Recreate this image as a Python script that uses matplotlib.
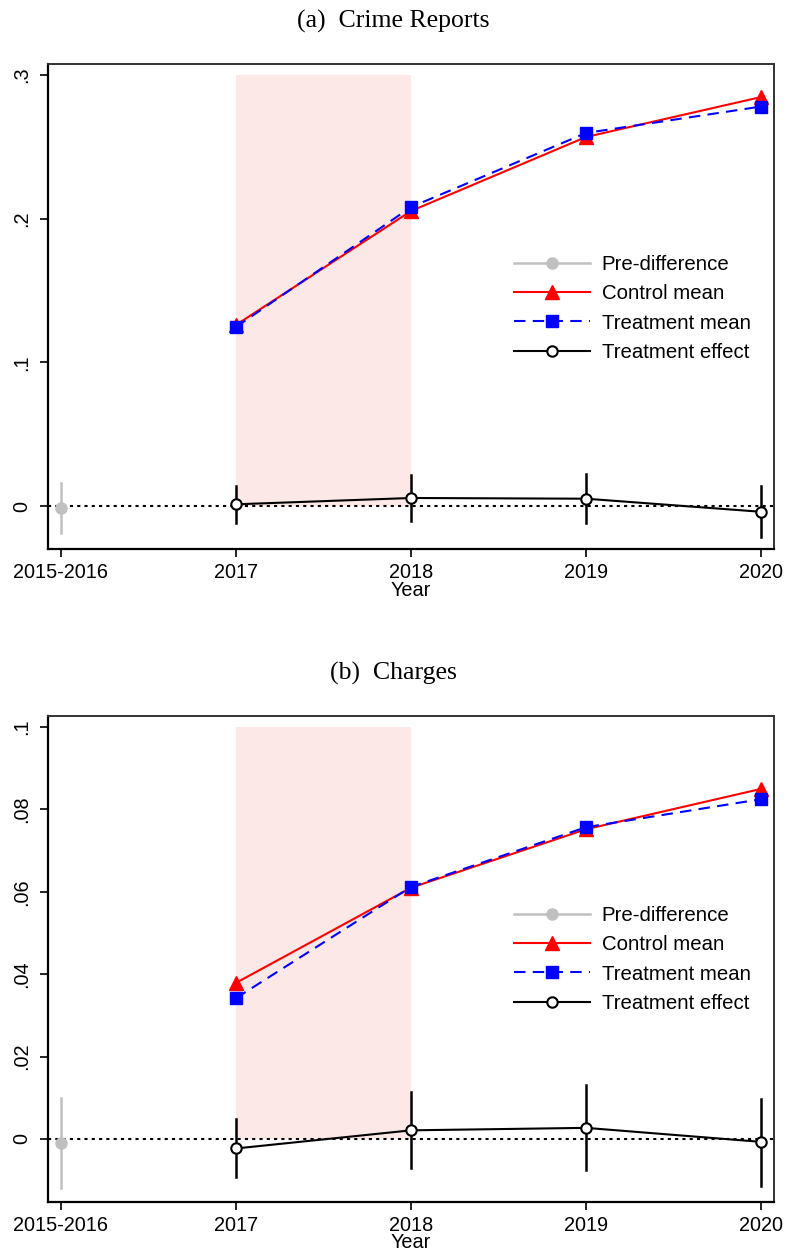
import matplotlib
matplotlib.use("Agg")
import matplotlib.pyplot as plt
import numpy as np

xlabels = ["2015-2016", "2017", "2018", "2019", "2020"]
years_post = [1, 2, 3, 4]

# Panel (a) Crime Reports
a_control = [0.126, 0.2053, 0.2568, 0.2846]
a_treat = [0.1246, 0.208, 0.2596, 0.278]
a_effect = [0.0012, 0.0056, 0.0051, -0.004]
a_eff_lo = [-0.012, -0.0104, -0.012, -0.0216]
a_eff_hi = [0.0139, 0.0216, 0.0225, 0.0139]
a_pre = -0.0016
a_pre_lo = -0.019
a_pre_hi = 0.0158

# Panel (b) Charges
b_control = [0.0379, 0.0610, 0.0752, 0.0850]
b_treat = [0.0342, 0.0612, 0.0757, 0.0825]
b_effect = [-0.0023, 0.0021, 0.0027, -0.0007]
b_eff_lo = [-0.0093, -0.0070, -0.0075, -0.0113]
b_eff_hi = [0.0048, 0.0114, 0.0130, 0.0096]
b_pre = -0.0010
b_pre_lo = -0.0120
b_pre_hi = 0.0099

plt.rcParams['font.family'] = ['Liberation Sans', 'DejaVu Sans']

fig = plt.figure(figsize=(7.86, 12.54), dpi=100)
W, H = 786, 1254

def add_ax(left, top, right, bottom):
    return fig.add_axes([left / W, 1 - bottom / H, (right - left) / W, (bottom - top) / H])

ax_a = add_ax(48, 64, 774, 549)
ax_b = add_ax(48, 716, 774, 1202)

def draw(ax, control, treat, effect, lo, hi, pre, pre_lo, pre_hi, shade_top, yticks, yticklabels, ylim, title):
    ax.fill_between([1, 2], 0, shade_top, color='#fde8e8', lw=0, zorder=0)
    ax.axhline(0, color='black', ls=(0, (1.5, 2.0)), lw=1.5, zorder=1)
    # pre-difference
    ax.plot([0, 0], [pre_lo, pre_hi], color='#c0c0c0', lw=1.8, zorder=2)
    ax.plot([0], [pre], marker='o', color='#c0c0c0', ms=8, ls='-', lw=1.8, zorder=3, label='Pre-difference')
    # means
    ax.plot(years_post, control, color='red', lw=1.5, marker='^', ms=10, zorder=4, label='Control mean')
    ax.plot(years_post, treat, color='blue', lw=1.5, ls=(0, (5.5, 3.5)), marker='s', ms=8, zorder=5, label='Treatment mean')
    # effect CIs
    for x, l, h in zip(years_post, lo, hi):
        ax.plot([x, x], [l, h], color='black', lw=1.8, zorder=2)
    ax.plot(years_post, effect, color='black', lw=1.5, marker='o', ms=7.5, mfc='white', mec='black', mew=1.5, zorder=6, label='Treatment effect')

    ax.set_xlim(-0.074, 4.074)
    ax.set_ylim(*ylim)
    ax.set_xticks(range(5))
    ax.set_xticklabels(xlabels, fontsize=14.3)
    ax.set_yticks(yticks)
    ax.set_yticklabels(yticklabels, fontsize=14.3, rotation=90, va='center')
    ax.tick_params(axis='both', direction='out', length=6, width=1.2, color='black')
    ax.tick_params(axis='x', pad=4)
    ax.tick_params(axis='y', pad=6)
    for s in ['left', 'bottom']:
        ax.spines[s].set_linewidth(1.6)
        ax.spines[s].set_color('black')
    for s in ['top', 'right']:
        ax.spines[s].set_linewidth(1.4)
        ax.spines[s].set_color('#333333')
    ax.set_xlabel('Year', fontsize=14.3, labelpad=-1)
    ax.set_title(title, family=['Liberation Serif', 'DejaVu Serif'], fontsize=18.5, pad=26.5,
                 x=(393 - 48) / 726)
    leg = ax.legend(loc='center left', frameon=False,
                    fontsize=14.7, handlelength=3.7, handletextpad=0.6, labelspacing=0.5, borderpad=0,
                    borderaxespad=0)
    return leg

leg_a = draw(ax_a, a_control, a_treat, a_effect, a_eff_lo, a_eff_hi, a_pre, a_pre_lo, a_pre_hi,
             0.3, [0, 0.1, 0.2, 0.3], ['0', '.1', '.2', '.3'], (-0.0299, 0.3076), '(a)  Crime Reports')
leg_a.set_bbox_to_anchor(((514 - 48) / 726, (549 - 308.5) / 485), transform=ax_a.transAxes)

leg_b = draw(ax_b, b_control, b_treat, b_effect, b_eff_lo, b_eff_hi, b_pre, b_pre_lo, b_pre_hi,
             0.1, [0, 0.02, 0.04, 0.06, 0.08, 0.1], ['0', '.02', '.04', '.06', '.08', '.1'], (-0.0153, 0.1027), '(b)  Charges')
leg_b.set_bbox_to_anchor(((514 - 48) / 726, (1202 - 959.5) / 486), transform=ax_b.transAxes)

fig.savefig('out.png', dpi=100)
